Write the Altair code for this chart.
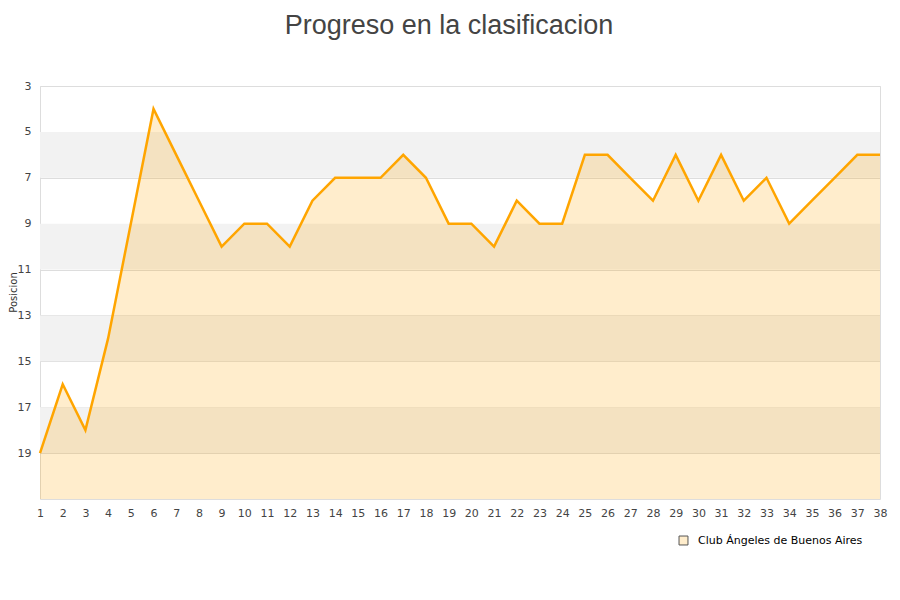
import pandas as pd
import altair as alt

rounds = list(range(1, 39))
positions = [19, 16, 18, 14, 9, 4, 6, 8, 10, 9, 9, 10, 8, 7, 7, 7, 6, 7, 9, 9,
             10, 8, 9, 9, 6, 6, 7, 8, 6, 8, 6, 8, 7, 9, 8, 7, 6, 6]
club = "Club Ángeles de Buenos Aires"
band_starts = [5, 9, 13, 17]
y_ticks = [3, 5, 7, 9, 11, 13, 15, 17, 19]

df = pd.DataFrame({"Jornada": rounds, "Posicion": positions})
df["base"] = 21
bands = pd.DataFrame({"y1": band_starts, "y2": [b + 2 for b in band_starts]})
# one point outside the y domain, clipped away: only there to make the legend entry
legend_df = pd.DataFrame({"Jornada": [38], "Posicion": [30], "Club": [club]})

x_scale = alt.Scale(domain=[1, 38], nice=False, zero=False)
y_scale = alt.Scale(domain=[3, 21], reverse=True, nice=False, zero=False)

x_axis = alt.Axis(values=rounds, title=None, ticks=False, grid=False,
                  domain=False, labelPadding=8, labelFontSize=11,
                  labelColor="#444", labelFont="DejaVu Sans",
                  labelOverlap=False, labelFlush=False, labelBound=False)
y_axis = alt.Axis(values=y_ticks, title="Posicion", ticks=False,
                  domain=False, gridColor="#dddddd", labelPadding=9,
                  labelFontSize=11, labelColor="#444",
                  labelFont="DejaVu Sans", titleFontSize=10,
                  titleFontWeight="normal", titleColor="#333",
                  titleFont="DejaVu Sans", titleAngle=270,
                  titleX=-22, titleY=206, titleAlign="center",
                  titleBaseline="bottom")

band_layer = alt.Chart(bands).mark_rect(color="#f2f2f2").encode(
    x=alt.value(0),
    x2=alt.value(840),
    y=alt.Y("y1:Q", scale=y_scale, axis=y_axis),
    y2="y2:Q",
)

area = alt.Chart(df).mark_area(color="#ffa500", fillOpacity=0.2).encode(
    x=alt.X("Jornada:Q", scale=x_scale, axis=x_axis),
    y=alt.Y("Posicion:Q", scale=y_scale, axis=y_axis),
    y2="base:Q",
)

line = alt.Chart(df).mark_line(color="#ffa500", strokeWidth=2.5).encode(
    x=alt.X("Jornada:Q", scale=x_scale, axis=x_axis),
    y=alt.Y("Posicion:Q", scale=y_scale, axis=y_axis),
)

legend_layer = alt.Chart(legend_df).mark_point(shape="square", filled=True, clip=True).encode(
    x=alt.X("Jornada:Q", scale=x_scale, axis=x_axis),
    y=alt.Y("Posicion:Q", scale=y_scale, axis=y_axis),
    color=alt.Color("Club:N", scale=alt.Scale(range=["#ffedcc"]),
                    legend=alt.Legend(title=None, orient="none", legendX=638,
                                      legendY=449, symbolType="square",
                                      symbolSize=80, symbolStrokeColor="#555",
                                      symbolStrokeWidth=1, symbolOpacity=1,
                                      labelFontSize=11, labelLimit=0,
                                      labelOffset=9, labelColor="#000",
                                      labelFont="DejaVu Sans")),
)

chart = (
    alt.layer(band_layer, area, line, legend_layer)
    .properties(
        width=840,
        height=413,
        autosize=alt.AutoSizeParams(type="none"),
        padding={"left": 32, "top": 78, "right": 12, "bottom": 90},
        title=alt.TitleParams("Progreso en la clasificacion", fontSize=27,
                              font="Liberation Sans", fontWeight="normal",
                              color="#444", anchor="middle", offset=40, dx=-11),
    )
    .configure_view(stroke="#dddddd")
)

chart.save("out.html", embed_options={"renderer": "svg", "actions": False})
